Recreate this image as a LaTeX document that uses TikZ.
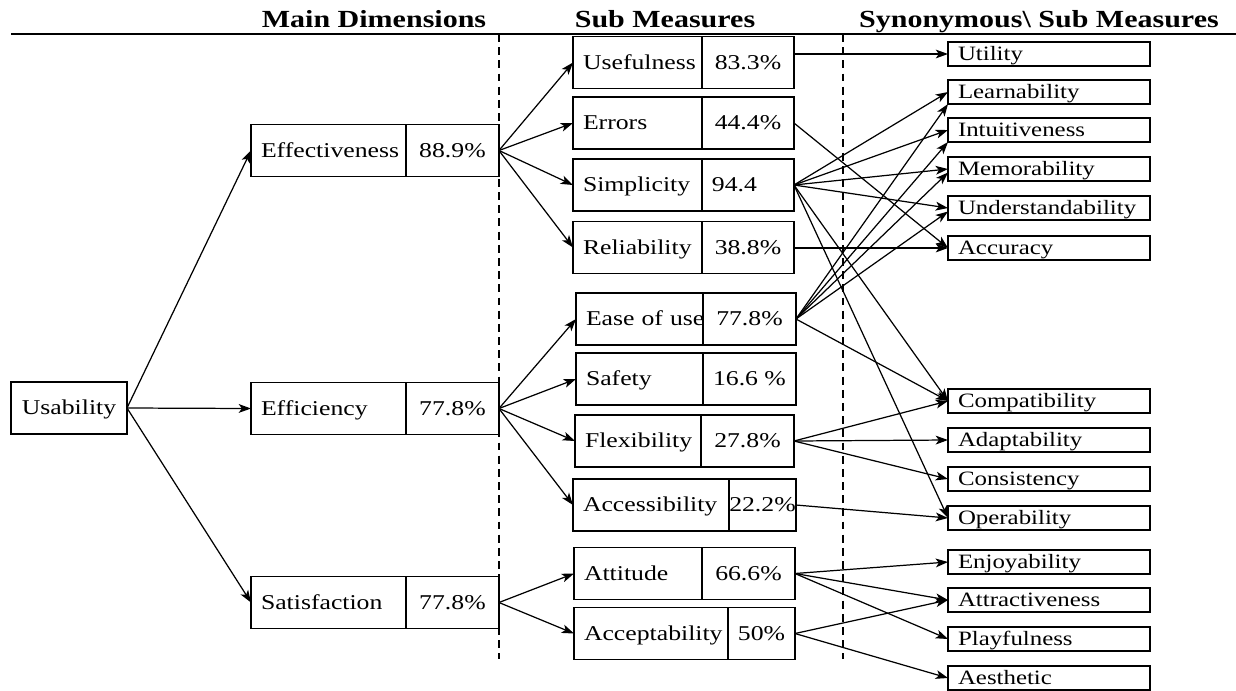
\documentclass[tikz,border=0pt]{standalone}
\usepackage{fontspec}
\setmainfont{Liberation Serif}[FakeStretch=1.22]
\usetikzlibrary{positioning,arrows.meta}

\begin{document}
\begin{tikzpicture}[x=0.02cm,y=-0.02cm,
	font=\fontsize{12}{14}\selectfont,
	box/.style={draw, line width=0.75pt, outer sep=0pt, inner ysep=0pt, minimum height=1.04cm,
		text height=8.5pt, text depth=0.6pt},
	namecell/.style={box, anchor=west, inner xsep=0.2cm, text width=#1,
		execute at begin node={\hbox\bgroup}, execute at end node={\egroup}},
	pctcell/.style={box, minimum width=#1, inner xsep=0pt},
	syn/.style={draw, line width=0.75pt, outer sep=0pt, anchor=west, inner xsep=0.2cm, inner ysep=0pt,
		minimum height=0.48cm, text width=3.64cm, text height=8pt, text depth=0.5pt,
		font=\fontsize{11.6}{13}\selectfont,
		execute at begin node={\hbox\bgroup}, execute at end node={\egroup}},
	head/.style={anchor=base, font=\fontsize{14}{16}\selectfont\bfseries},
	link/.style={-{Stealth[length=7pt,width=5pt,inset=1.8pt]}, line width=0.7pt}]
	\useasboundingbox (0,0) rectangle (1236,690);

	\node[head] (hmain) at (374,27) {Main Dimensions};
	\node[head] (hsub) at (665,27) {Sub Measures};
	\node[head, anchor=base east] (hsyn) at (1225,27) {Synonymous\textbackslash{} Sub Measures};
	\draw[line width=1pt] (11,34) -- (1236,34);
	\draw[dashed, dash pattern=on 4.5pt off 3pt, line width=0.7pt] (499,34) -- (499,659);
	\draw[dashed, dash pattern=on 4.5pt off 3pt, line width=0.7pt] (843,34) -- (843,659);

	\node[box, minimum width=2.32cm] (usab) at (69,408) {Usability};

	\node[namecell=2.7cm] (effn) at (251,150.5) {Effectiveness};
	\node[pctcell=1.86cm, right=0pt of effn] (effp) {88.9\%};
	\node[namecell=2.7cm] (efcn) at (251,408.5) {Efficiency};
	\node[pctcell=1.86cm, right=0pt of efcn] (efcp) {77.8\%};
	\node[namecell=2.7cm] (satn) at (251,602.5) {Satisfaction};
	\node[pctcell=1.86cm, right=0pt of satn] (satp) {77.8\%};

	\node[namecell=2.18cm] (usef) at (573,62.5) {Usefulness};
	\node[pctcell=1.84cm, right=0pt of usef] (usefp) {83.3\%};
	\node[namecell=2.18cm] (err) at (573,123) {Errors};
	\node[pctcell=1.84cm, right=0pt of err] (errp) {44.4\%};
	\node[namecell=2.18cm] (simp) at (573,185) {Simplicity};
	\node[namecell=1.44cm, right=0pt of simp] (simpp) {94.4};
	\node[namecell=2.18cm] (rel) at (573,247.5) {Reliability};
	\node[pctcell=1.84cm, right=0pt of rel] (relp) {38.8\%};
	\node[namecell=2.14cm] (ease) at (576,319) {Ease of use};
	\node[pctcell=1.86cm, right=0pt of ease] (easep) {77.8\%};
	\node[namecell=2.14cm] (safe) at (576,379) {Safety};
	\node[pctcell=1.86cm, right=0pt of safe] (safep) {16.6 \%};
	\node[namecell=2.12cm] (flex) at (575,441) {Flexibility};
	\node[pctcell=1.86cm, right=0pt of flex] (flexp) {27.8\%};
	\node[namecell=2.72cm] (acces) at (573,505) {Accessibility};
	\node[pctcell=1.34cm, right=0pt of acces] (accesp) {22.2\%};
	\node[namecell=2.16cm] (att) at (574,573.5) {Attitude};
	\node[pctcell=1.86cm, right=0pt of att] (attp) {66.6\%};
	\node[namecell=2.68cm] (accep) at (574,633.5) {Acceptability};
	\node[pctcell=1.34cm, right=0pt of accep] (accepp) {50\%};

	\node[syn] (util) at (948,54) {Utility};
	\node[syn] (learn) at (948,92) {Learnability};
	\node[syn] (intu) at (948,130) {Intuitiveness};
	\node[syn] (memo) at (948,169) {Memorability};
	\node[syn] (under) at (948,208) {Understandability};
	\node[syn] (accur) at (948,248) {Accuracy};
	\node[syn] (compat) at (948,401) {Compatibility};
	\node[syn] (adapt) at (948,440) {Adaptability};
	\node[syn] (consist) at (948,479) {Consistency};
	\node[syn] (oper) at (948,518) {Operability};
	\node[syn] (enjoy) at (948,562) {Enjoyability};
	\node[syn] (attract) at (948,600) {Attractiveness};
	\node[syn] (playf) at (948,639) {Playfulness};
	\node[syn] (aesth) at (948,678) {Aesthetic};

	\draw[link] (usab.east) -- (effn.west);
	\draw[link] (usab.east) -- (efcn.west);
	\draw[link] (usab.east) -- (satn.west);

	\draw[link] (effp.east) -- (usef.west);
	\draw[link] (effp.east) -- (err.west);
	\draw[link] (effp.east) -- (simp.west);
	\draw[link] (effp.east) -- (rel.west);
	\draw[link] (efcp.east) -- (ease.west);
	\draw[link] (efcp.east) -- (safe.west);
	\draw[link] (efcp.east) -- (flex.west);
	\draw[link] (efcp.east) -- (acces.west);
	\draw[link] (satp.east) -- (att.west);
	\draw[link] (satp.east) -- (accep.west);

	\draw[link] (usefp.east |- util) -- (util.west);
	\draw[link] (errp.east) -- (accur.west);
	\draw[link] (simpp.east) -- (learn.west);
	\draw[link] (simpp.east) -- (intu.west);
	\draw[link] (simpp.east) -- (memo.west);
	\draw[link] (simpp.east) -- (under.west);
	\draw[link] (simpp.east) -- (compat.west);
	\draw[link] (simpp.east) -- (oper.west);
	\draw[link] (relp.east |- accur) -- (accur.west);
	\draw[link] (easep.east) -- (learn.south west);
	\draw[link] (easep.east) -- (intu.south west);
	\draw[link] (easep.east) -- ([yshift=-2pt]memo.west);
	\draw[link] (easep.east) -- ([yshift=-2pt]under.west);
	\draw[link] (easep.east) -- (compat.west);
	\draw[link] (flexp.east) -- (compat.west);
	\draw[link] (flexp.east) -- (adapt.west);
	\draw[link] (flexp.east) -- (consist.west);
	\draw[link] (accesp.east) -- (oper.west);
	\draw[link] (attp.east) -- (enjoy.west);
	\draw[link] (attp.east) -- (attract.west);
	\draw[link] (attp.east) -- (playf.west);
	\draw[link] (accepp.east) -- (attract.west);
	\draw[link] (accepp.east) -- (aesth.west);
\end{tikzpicture}
\end{document}
